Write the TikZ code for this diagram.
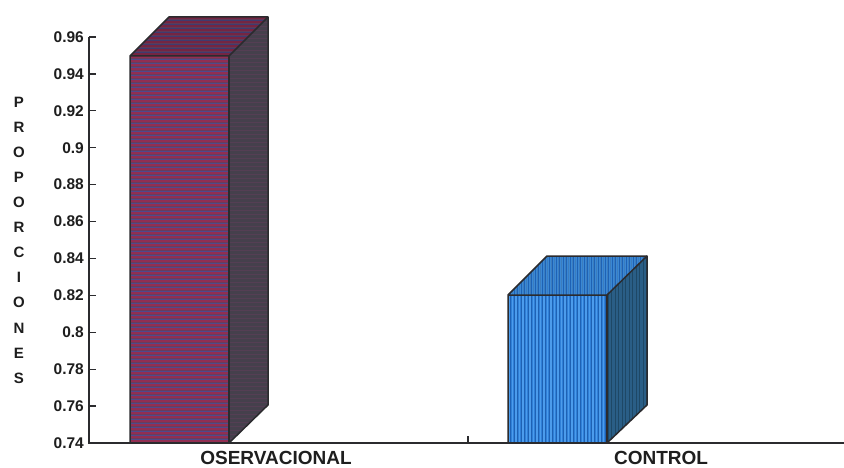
\documentclass[tikz,border=0pt]{standalone}
\usepackage{fontspec}
\setmainfont{Liberation Sans}
\definecolor{edge}{HTML}{2B2B2E}
\definecolor{bAbase}{HTML}{6A3C5C}
\definecolor{bAred}{HTML}{922E52}
\definecolor{bAblue}{HTML}{4E4A8C}
\definecolor{bAside}{HTML}{45404C}
\definecolor{bAsidest}{HTML}{553E54}
\definecolor{bAtop}{HTML}{5E3A58}
\definecolor{bBbase}{HTML}{2F80D8}
\definecolor{bBlight}{HTML}{4C9CEC}
\definecolor{bBdark}{HTML}{1E62B4}
\definecolor{bBtop}{HTML}{3A88D4}
\definecolor{bBside}{HTML}{2A5E86}
\definecolor{bBsidest}{HTML}{1E4866}
\definecolor{txt}{HTML}{1E1E1E}
\tikzset{
  axisline/.style={edge, line width=1.6pt},
  ticklab/.style={anchor=east, inner sep=0pt, text=txt, font=\fontsize{15.5}{18}\selectfont\bfseries},
  ylet/.style={inner sep=0pt, text=txt, font=\fontsize{15}{18}\selectfont\bfseries},
  catlab/.style={inner sep=0pt, text=txt, font=\fontsize{19}{21}\selectfont\bfseries},
  faceedge/.style={edge, line width=1.5pt, line join=round}
}
\begin{document}
\begin{tikzpicture}[x=1pt,y=-1pt]
\useasboundingbox (0,0) rectangle (844,468);
\fill[white] (0,0) rectangle (844,468);

% ---------- Bar 1 (OSERVACIONAL) ----------
\coordinate (a1) at (130,56);  \coordinate (a2) at (229,56);
\coordinate (a3) at (229,443); \coordinate (a4) at (130,443);
\coordinate (a5) at (169,17);  \coordinate (a6) at (268,17);
\coordinate (a7) at (268,405);
% front
\begin{scope}
\clip (a1) -- (a2) -- (a3) -- (a4) -- cycle;
\fill[bAbase] (130,17) rectangle (268,443);
\foreach \y in {57,61,...,443} {
  \draw[bAred, line width=1.2pt] (130,\y) -- (229,\y);
  \draw[bAblue, line width=0.8pt] (130,\y+2) -- (229,\y+2);
}
\end{scope}
% top
\begin{scope}
\clip (a1) -- (a5) -- (a6) -- (a2) -- cycle;
\fill[bAtop] (130,17) rectangle (268,56);
\foreach \y in {18,22,...,56} {
  \draw[bAred!80!black, line width=1.1pt] (130,\y) -- (268,\y);
  \draw[bAblue!80!black, line width=0.8pt] (130,\y+2) -- (268,\y+2);
}
\end{scope}
% side
\begin{scope}
\clip (a2) -- (a6) -- (a7) -- (a3) -- cycle;
\fill[bAside] (229,17) rectangle (268,443);
\foreach \y in {18,22,...,443} {
  \draw[bAsidest, line width=0.8pt] (229,\y) -- (268,\y);
}
\end{scope}
\draw[faceedge] (a4) -- (a1) -- (a5) -- (a6) -- (a7) -- (a3) -- cycle;
\draw[faceedge] (a1) -- (a2) -- (a6);
\draw[faceedge] (a2) -- (a3);

% ---------- Bar 2 (CONTROL) ----------
\coordinate (c1) at (508,295); \coordinate (c2) at (607,295);
\coordinate (c3) at (607,443); \coordinate (c4) at (508,443);
\coordinate (c5) at (547,256); \coordinate (c6) at (647,256);
\coordinate (c7) at (647,405);
% front
\begin{scope}
\clip (c1) -- (c2) -- (c3) -- (c4) -- cycle;
\fill[bBbase] (508,256) rectangle (647,443);
\foreach \x in {509,512.5,...,607} {
  \draw[bBlight, line width=1.1pt] (\x,295) -- (\x,443);
  \draw[bBdark, line width=0.7pt] (\x+1.75,295) -- (\x+1.75,443);
}
\end{scope}
% top
\begin{scope}
\clip (c1) -- (c5) -- (c6) -- (c2) -- cycle;
\fill[bBtop] (508,256) rectangle (647,295);
\foreach \x in {509,512.5,...,647} {
  \draw[bBlight!80!black, line width=1pt] (\x,256) -- (\x,295);
  \draw[bBdark, line width=0.7pt] (\x+1.75,256) -- (\x+1.75,295);
}
\end{scope}
% side
\begin{scope}
\clip (c2) -- (c6) -- (c7) -- (c3) -- cycle;
\fill[bBside] (607,256) rectangle (647,443);
\foreach \x in {608,611.5,...,647} {
  \draw[bBsidest, line width=0.9pt] (\x,256) -- (\x,443);
}
\end{scope}
\draw[faceedge] (c4) -- (c1) -- (c5) -- (c6) -- (c7) -- (c3) -- cycle;
\draw[faceedge] (c1) -- (c2) -- (c6);
\draw[faceedge] (c2) -- (c3);

% ---------- Axes ----------
\coordinate (otop) at (89,37);
\coordinate (orig) at (89,443);
\coordinate (xend) at (844,443);
\draw[axisline] (otop) -- (orig) -- (xend);
\foreach \v/\lab [count=\i] in {0.96/0.96,0.94/0.94,0.92/0.92,0.90/0.9,0.88/0.88,0.86/0.86,0.84/0.84,0.82/0.82,0.80/0.8,0.78/0.78,0.76/0.76,0.74/0.74} {
  \pgfmathsetmacro{\yy}{443-(\v-0.74)*1845.45}
  \coordinate (t\i) at (89,\yy);
  \coordinate (te\i) at (96,\yy);
  \draw[axisline, line width=1.3pt] (t\i) -- (te\i);
  \node[ticklab] (tl\i) at (84,\yy) {\lab};
}
\coordinate (mtb) at (468,443);
\coordinate (mtt) at (468,436);
\draw[axisline, line width=1.3pt] (mtb) -- (mtt);

% ---------- Y label (stacked letters) ----------
\foreach \ch [count=\i from 0] in {P,R,O,P,O,R,C,I,O,N,E,S} {
  \node[ylet] (yl\i) at (19,102+25.1*\i) {\ch};
}

% ---------- Category labels ----------
\node[catlab] (cat1) at (276,457.5) {OSERVACIONAL};
\node[catlab] (cat2) at (661,457.5) {CONTROL};
\end{tikzpicture}
\end{document}
